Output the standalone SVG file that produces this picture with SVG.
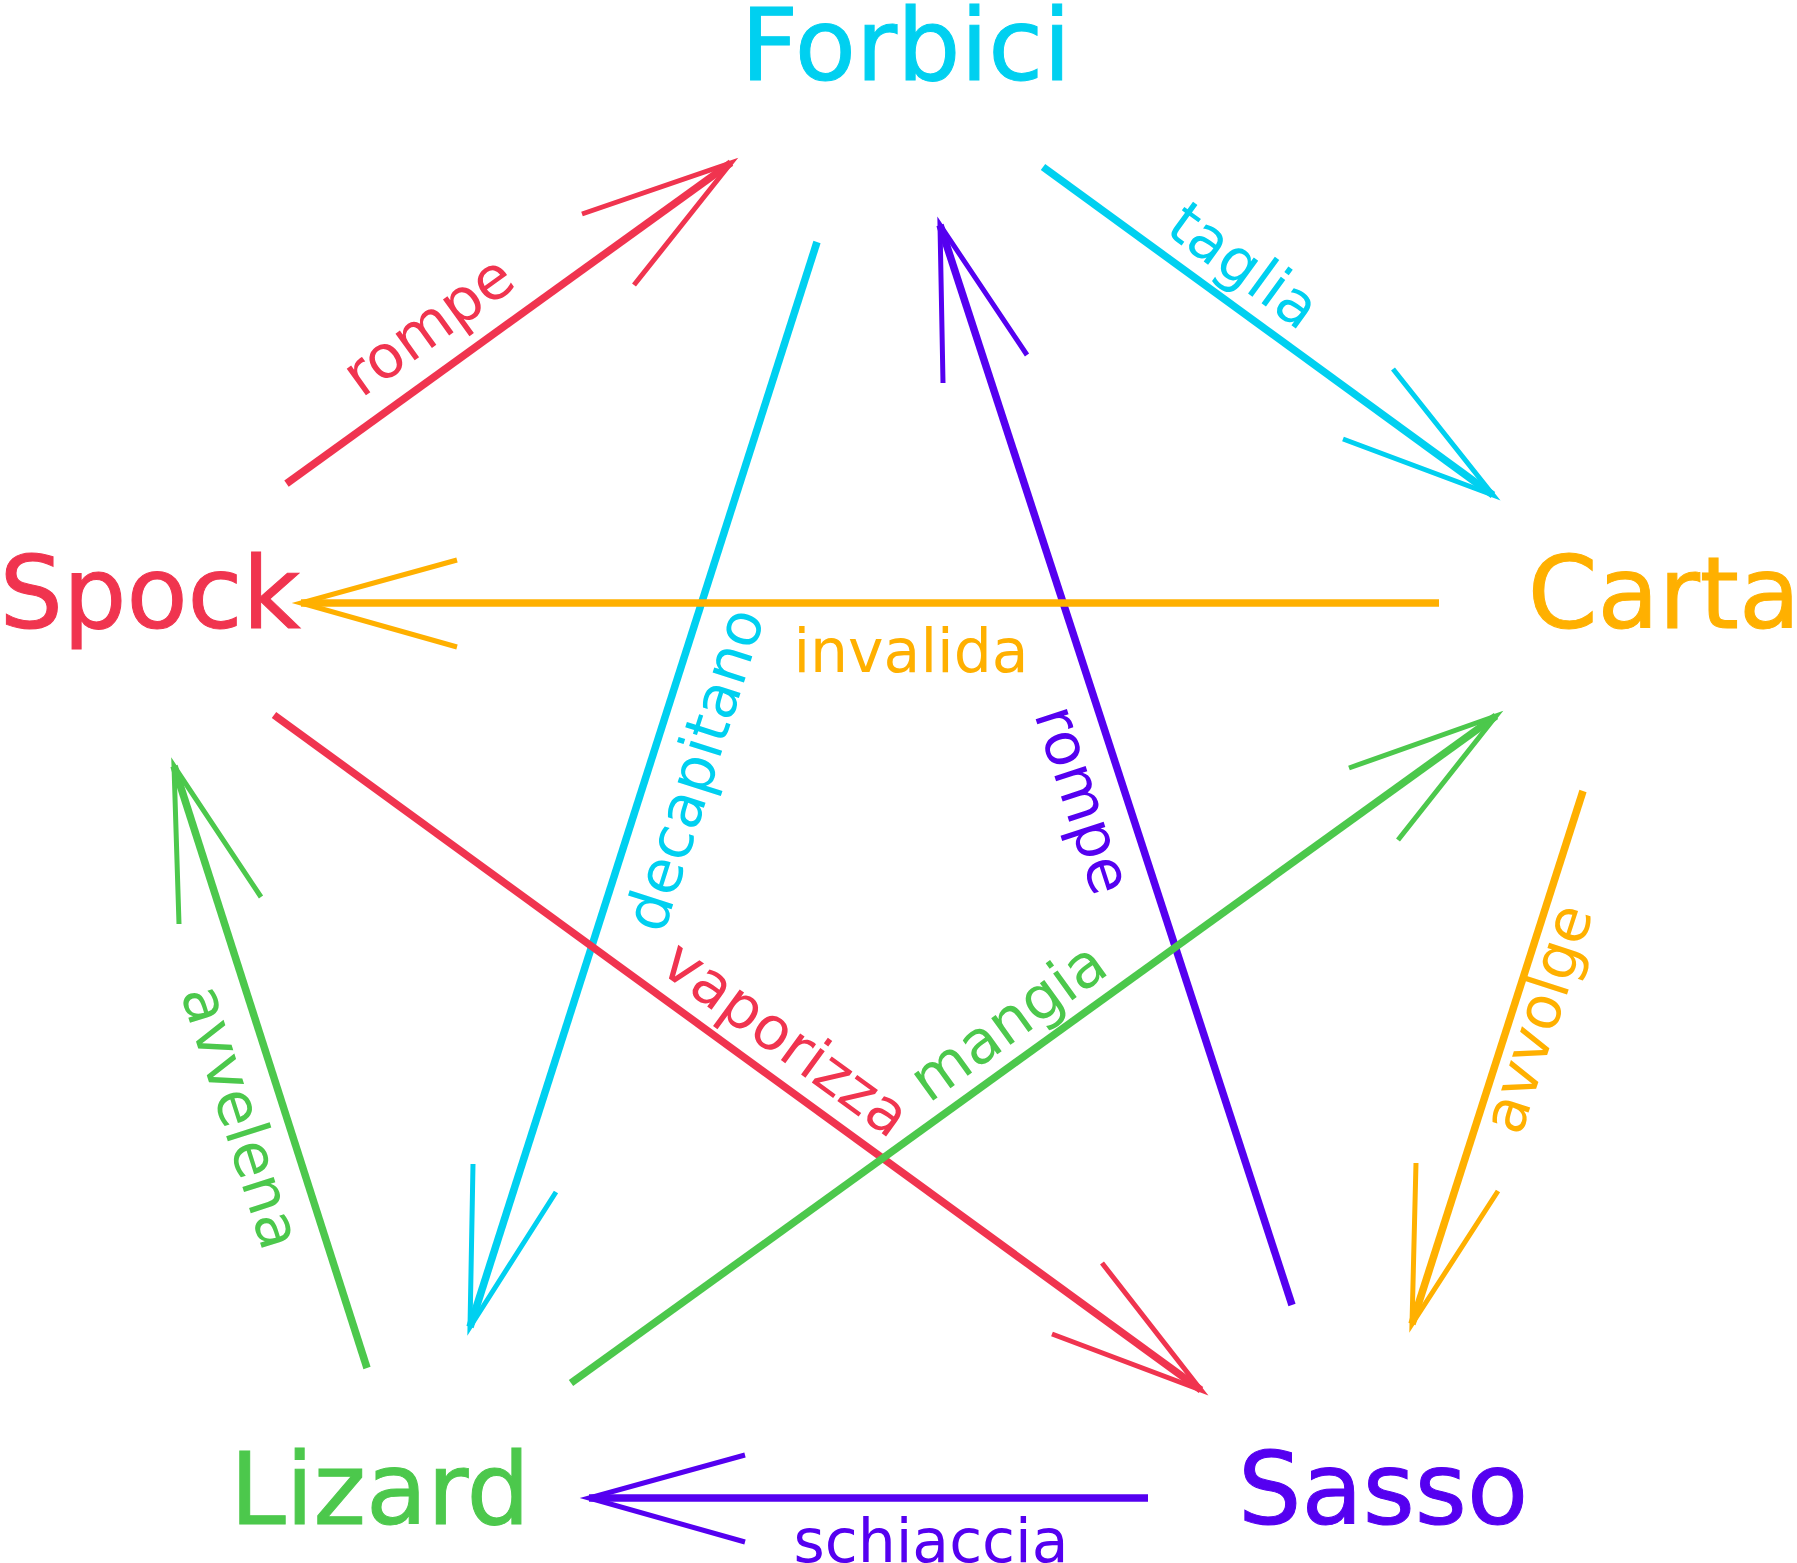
<svg xmlns="http://www.w3.org/2000/svg" width="1797" height="1563" viewBox="0 0 1797 1563">
<style>
text{font-family:"DejaVu Sans",sans-serif;text-anchor:middle}
.n{font-size:100px}.l{font-size:60px}
.line{fill:none;stroke-width:7.5}.head{fill:none;stroke-width:5}
.red{fill:#f0344f;stroke:#f0344f}.cy{fill:#00d0f0;stroke:#00d0f0}.or{fill:#ffb000;stroke:#ffb000}
.in{fill:#5500f0;stroke:#5500f0}.gr{fill:#4cc84c;stroke:#4cc84c}
text{stroke:none}
</style>
<rect width="1797" height="1563" fill="#fff"/>
<g id="Forbici"><text class="n cy" x="906" y="80">Forbici</text></g>
<g id="Spock"><text class="n red" x="150" y="628">Spock</text></g>
<g id="Carta"><text class="n or" x="1664" y="628">Carta</text></g>
<g id="Lizard"><text class="n gr" x="380" y="1524">Lizard</text></g>
<g id="Sasso"><text class="n in" x="1383" y="1524">Sasso</text></g>
<g id="connectors">
<g class="red"><path class="line" d="M286.5,483.6L731,162.7"/><path class="head" d="M582,214L731,163L634,285"/>
<text class="l" transform="translate(440,342) rotate(-35.8)">rompe</text></g>
<g class="cy"><path class="line" d="M1043,167L1493,495"/><path class="head" d="M1343,439L1493,495L1393,369"/>
<text class="l" transform="translate(1232,282) rotate(36)">taglia</text></g>
<g class="cy"><path class="line" d="M817,242L470,1327"/><path class="head" d="M473,1164L470,1327L556,1192"/>
<text class="l" transform="translate(714,776) rotate(-72.3)">decapitano</text></g>
<g class="in"><path class="line" d="M1292,1305L940,225"/><path class="head" d="M943,383L940,225L1027,355"/>
<text class="l" transform="translate(1064,806) rotate(72)">rompe</text></g>
<g class="or"><path class="line" d="M1439,603L301,603"/><path class="head" d="M457,560L301,603L457,647"/>
<text class="l" x="911" y="672">invalida</text></g>
<g class="red"><path class="line" d="M274,715L1201,1390"/><path class="head" d="M1052,1334L1201,1390L1102,1263"/>
<text class="l" transform="translate(774,1055) rotate(36)">vaporizza</text></g>
<g class="gr"><path class="line" d="M571,1383L1496,716"/><path class="head" d="M1349,768L1496,716L1398,840"/>
<text class="l" transform="translate(1020,1038) rotate(-35.8)">mangia</text></g>
<g class="gr"><path class="line" d="M367,1368L174,766"/><path class="head" d="M179,924L174,766L261,897"/>
<text class="l" transform="translate(222,1123) rotate(72.3)">avvelena</text></g>
<g class="or"><path class="line" d="M1583,791L1412,1324"/><path class="head" d="M1416,1163L1412,1324L1498,1191"/>
<text class="l" transform="translate(1557,1025) rotate(-72)">avvolge</text></g>
<g class="in"><path class="line" d="M1148,1498L589,1498"/><path class="head" d="M745,1455L589,1498L745,1542"/>
<text class="l" x="931" y="1562">schiaccia</text></g>
</g>
</svg>
